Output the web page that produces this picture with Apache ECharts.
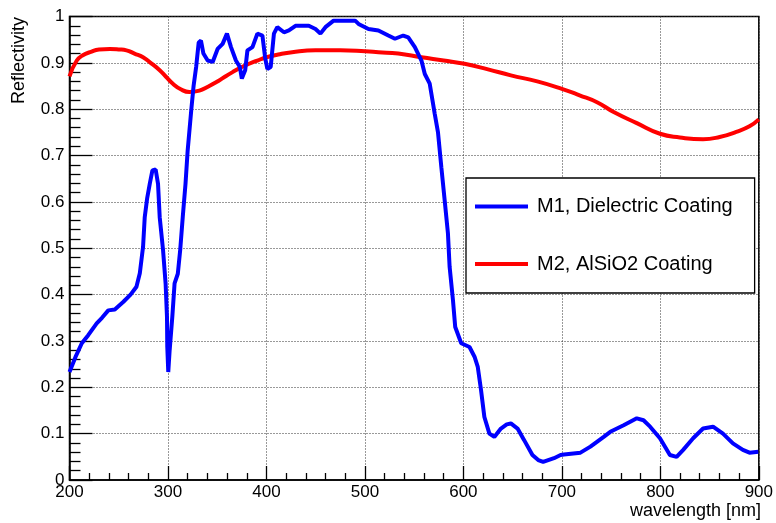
<!DOCTYPE html>
<html>
<head>
<meta charset="utf-8">
<script src="https://cdn.jsdelivr.net/npm/echarts@6/dist/echarts.min.js"></script>
<style>
html,body{margin:0;padding:0;background:#fff;}
#chart{width:776px;height:523px;}
</style>
</head>
<body>
<div id="chart"></div>
<script>
var seriesNames = ['M1, Dielectric Coating', 'M2, AlSiO2 Coating'];
var xTickLabels = ['200','300','400','500','600','700','800','900'];
var yTickLabels = ['0','0.1','0.2','0.3','0.4','0.5','0.6','0.7','0.8','0.9','1'];
var xTitle = 'wavelength [nm]';
var yTitle = 'Reflectivity';

var m1Wavelength = [200,206,212.5,219,227.6,233,239.4,246,254.5,262,268,271.4,274.7,276.4,278.8,281.5,284.2,287.5,289.9,291.6,295,297.6,299,299.3,300.3,301.7,304.4,306.7,310,312.4,315,317.8,320,323.6,326,328.6,331.2,333.5,336,340.3,345.4,350.4,355.5,359.9,364,369,373,375,378.4,380.7,385.8,390.8,392.5,395.9,398.6,400.9,404.3,407.6,411,417.8,422.8,429.5,443,449.8,454.8,459.9,468.2,480,490.1,493.5,503.6,513.7,523.8,530.5,538.9,544,550.7,557.4,560.8,565.8,570.9,574.2,577.6,581,584.3,586,589.4,591.7,597.8,606.2,611.3,614.6,617.9,621.3,626.4,631.4,638.1,644,648.2,655,661.7,670.1,676,681,692,698.7,702.1,718.9,729,742.5,749.2,762.7,776.1,782.9,789.6,799.6,809.7,816.5,823.2,833.3,843.4,853.5,863.6,873.7,883.8,890.5,899.5];
var m1Reflectivity = [0.233,0.265,0.295,0.3125,0.338,0.35,0.366,0.368,0.384,0.40,0.417,0.446,0.503,0.567,0.607,0.639,0.668,0.670,0.639,0.567,0.496,0.424,0.352,0.287,0.233,0.280,0.352,0.424,0.445,0.496,0.567,0.639,0.711,0.797,0.85,0.891,0.944,0.948,0.920,0.905,0.902,0.930,0.941,0.963,0.934,0.905,0.891,0.866,0.884,0.927,0.934,0.963,0.966,0.959,0.912,0.887,0.891,0.963,0.977,0.966,0.970,0.980,0.980,0.973,0.963,0.977,0.991,0.991,0.991,0.984,0.973,0.970,0.959,0.952,0.959,0.955,0.934,0.905,0.876,0.855,0.790,0.750,0.675,0.603,0.532,0.46,0.388,0.33,0.295,0.287,0.266,0.244,0.194,0.136,0.100,0.093,0.111,0.12,0.122,0.111,0.086,0.054,0.043,0.039,0.047,0.054,0.055,0.059,0.072,0.093,0.104,0.118,0.133,0.129,0.115,0.090,0.054,0.050,0.065,0.090,0.111,0.115,0.100,0.079,0.065,0.059,0.061];

var m2Wavelength = [200,207.4,214,220.9,230,241.1,250,257.9,266,274.7,283,291.6,298,305,313,321.8,331.9,340,348.8,357,365.6,374,382.4,390.8,400,412,426.1,449.8,475,500.2,513.7,533.8,557.4,580,601.2,625,648.2,675,700,718,735.7,752.6,776.1,799.6,819.8,843.4,860.2,877.1,890.5,900];
var m2Reflectivity = [0.871,0.905,0.917,0.923,0.929,0.930,0.929,0.927,0.920,0.912,0.899,0.884,0.870,0.855,0.843,0.837,0.840,0.848,0.858,0.869,0.880,0.890,0.898,0.905,0.912,0.918,0.923,0.927,0.927,0.925,0.923,0.920,0.912,0.905,0.898,0.886,0.873,0.860,0.844,0.830,0.815,0.794,0.770,0.747,0.739,0.735,0.740,0.751,0.763,0.778];

function zip(a, b) { return a.map(function (v, i) { return [v, b[i]]; }); }

var font = '"Liberation Sans", Arial, Helvetica, sans-serif';
var chart = echarts.init(document.getElementById('chart'), null, {renderer: 'canvas'});
chart.setOption({
  animation: false,
  backgroundColor: '#fff',
  grid: {left: 69.5, right: 13.5, top: 16.5, bottom: 43, show: true, borderColor: '#000', borderWidth: 1.5, backgroundColor: 'transparent'},
  xAxis: {
    type: 'value', min: 200, max: 900, interval: 100,
    axisLine: {show: true, onZero: false, lineStyle: {color: '#000', width: 1.5}},
    axisTick: {show: true, inside: true, length: 14, lineStyle: {color: '#000', width: 1.3}},
    minorTick: {show: true, splitNumber: 5, length: 7, lineStyle: {color: '#000', width: 1.3}},
    splitLine: {show: true, lineStyle: {color: '#333', width: 1, type: [1, 2]}},
    axisLabel: {margin: 4, color: '#000', fontSize: 17, fontFamily: font,
      formatter: function (v) { return xTickLabels[Math.round((v - 200) / 100)]; }}
  },
  yAxis: {
    type: 'value', min: 0, max: 1, interval: 0.1,
    axisLine: {show: true, lineStyle: {color: '#000', width: 1.5}},
    axisTick: {show: true, inside: true, length: 23, lineStyle: {color: '#000', width: 1.3}},
    minorTick: {show: true, splitNumber: 5, length: 11, lineStyle: {color: '#000', width: 1.3}},
    splitLine: {show: true, lineStyle: {color: '#333', width: 1, type: [1, 2]}},
    axisLabel: {margin: 5, color: '#000', fontSize: 17, fontFamily: font,
      formatter: function (v) { return yTickLabels[Math.round(v * 10)]; }}
  },
  legend: {
    orient: 'vertical', left: 466, top: 178,
    padding: [18.5, 22, 19, 9], itemGap: 37.5,
    itemWidth: 53, itemHeight: 4, icon: 'rect',
    backgroundColor: '#fff', borderColor: '#000', borderWidth: 1.3,
    selectedMode: false,
    textStyle: {fontSize: 20, lineHeight: 20, color: '#000', fontFamily: font, padding: [0, 0, 0, 4]},
    data: seriesNames
  },
  graphic: [
    {type: 'text', x: 19, y: 17, rotation: Math.PI / 2,
      style: {text: yTitle, fontSize: 18, fontFamily: font, fill: '#000', align: 'right', verticalAlign: 'middle'}},
    {type: 'text', x: 761, y: 511,
      style: {text: xTitle, fontSize: 18, fontFamily: font, fill: '#000', align: 'right', verticalAlign: 'middle'}}
  ],
  series: [
    {name: seriesNames[0], type: 'line', data: zip(m1Wavelength, m1Reflectivity), showSymbol: false, smooth: false,
      color: '#0000ff', lineStyle: {color: '#0000ff', width: 4}, z: 3},
    {name: seriesNames[1], type: 'line', data: zip(m2Wavelength, m2Reflectivity), showSymbol: false, smooth: true,
      color: '#ff0000', lineStyle: {color: '#ff0000', width: 4}, z: 2}
  ]
});
</script>
</body>
</html>
